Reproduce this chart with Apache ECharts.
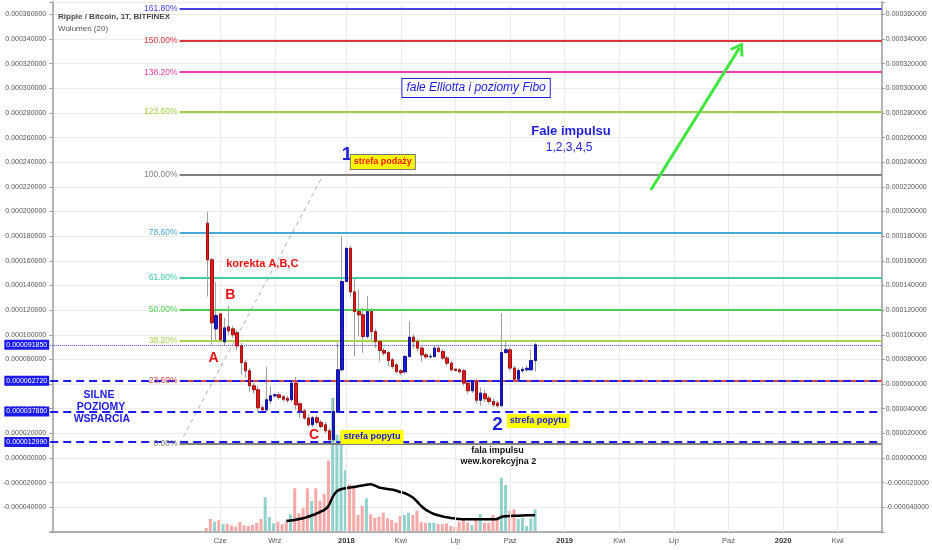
<!DOCTYPE html>
<html><head><meta charset="utf-8">
<script src="https://cdn.jsdelivr.net/npm/echarts@6/dist/echarts.min.js"></script>
<style>html,body{margin:0;padding:0;background:#fff}#c{width:932px;height:550px}</style>
</head><body><div id="c"></div>
<script>
// ---------- DATA (prices in µBTC = 1e-6 BTC) ----------
const firstWeek = '2016-08-29';
const weekCount = 198;
const candleStart = '2017-05-15';
const open = [190.5,160.8,104.8,117.0,94.3,106.4,104.8,101.6,91.0,77.3,70.8,58.6,55.4,40.8,39.2,46.5,50.5,51.3,49.7,48.5,47.3,60.8,44.0,38.3,32.4,27.0,32.7,29.0,27.0,22.1,14.8,37.8,71.6,143.2,170.2,134.8,118.8,116.2,98.6,118.8,102.6,94.5,87.2,85.6,79.7,75.6,70.8,70.0,82.4,98.1,94.5,89.2,83.7,82.1,82.4,89.2,86.4,81.1,77.0,72.2,71.6,70.8,60.8,54.6,61.9,46.9,52.1,48.6,45.9,44.6,42.4,85.6,87.8,73.0,64.0,70.8,71.6,71.6,79.1];
const close = [160.8,109.7,115.6,95.9,105.6,103.2,100.0,91.0,77.3,70.8,58.6,55.4,40.8,39.2,47.3,50.5,51.3,49.3,47.7,46.9,60.8,43.2,38.3,32.4,27.0,32.7,29.0,25.6,22.1,14.8,37.8,71.6,143.2,170.2,134.8,118.8,116.2,98.6,118.8,102.6,94.5,87.2,85.1,79.1,74.3,70.2,69.2,82.4,98.1,94.5,89.2,83.7,82.1,82.5,89.2,86.4,81.1,77.0,71.6,71.0,70.0,60.8,54.6,61.9,46.9,52.7,48.1,45.9,43.2,42.4,85.6,87.8,73.0,64.0,71.0,72.0,72.8,79.1,91.85];
const low = [131.0,91.9,94.5,91.9,91.0,100.0,97.5,87.8,67.5,65.1,53.7,52.1,37.5,36.7,37.5,44.0,48.9,47.3,45.6,44.8,45.6,39.2,32.7,31.0,25.4,25.4,27.0,23.8,20.5,11.6,13.2,36.7,70.0,141.3,130.8,82.4,98.6,85.4,96.7,93.5,89.4,78.3,82.9,74.3,72.4,68.3,67.5,68.3,81.3,88.6,86.2,78.1,80.5,80.5,81.3,85.4,79.7,74.8,70.0,70.0,68.3,58.6,52.1,52.9,44.0,42.4,45.6,44.0,41.6,40.8,41.6,84.6,70.8,61.9,62.7,69.2,70.0,70.8,70.2];
const high = [199.9,162.4,142.9,121.8,113.7,123.5,107.3,104.0,93.5,79.7,73.2,61.0,58.6,43.2,74.0,58.6,52.9,53.7,51.3,50.5,62.7,65.9,45.6,40.0,35.1,34.3,35.1,31.0,29.4,24.6,48.9,93.5,179.7,229.7,172.1,146.2,136.4,121.8,131.6,121.8,104.8,95.9,89.4,87.0,81.3,77.3,72.4,83.7,110.7,100.8,96.7,91.0,85.4,84.6,91.0,91.0,88.6,82.9,78.9,74.0,73.2,72.4,62.7,63.5,64.3,57.0,55.4,50.5,48.1,46.5,117.6,94.5,89.4,74.8,73.2,74.0,74.8,87.8,93.5];
const volume = [30,120,93,110,70,70,57,43,90,57,50,60,80,120,337,140,77,93,67,87,167,427,177,227,427,300,427,303,370,703,1330,960,960,610,467,453,160,250,327,167,133,143,183,127,110,83,150,160,183,160,203,93,83,83,83,70,70,77,50,43,93,110,83,60,110,170,83,83,160,110,533,460,203,217,120,133,50,127,217];
const maStart = '2017-09-25';
const volumeMA = [100,105,110,120,127,140,155,170,190,210,250,340,398,418,427,435,440,447,455,463,467,455,435,427,420,415,405,390,380,360,335,295,250,215,190,170,157,147,137,130,125,120,117,117,117,117,117,117,117,117,120,140,147,150,152,153,155,157,158,160];
const tickDates = ['2017-06-05','2017-09-04','2018-01-01','2018-04-02','2018-07-02','2018-10-01','2018-12-31','2019-04-01','2019-07-01','2019-09-30','2019-12-30','2020-03-30'];
const tickLabels = ['Cze','Wrz','2018','Kwi','Lip','Paź','2019','Kwi','Lip','Paź','2020','Kwi'];
const fibLow = 11.6, fibHigh = 229.7;
const fibRatios = [0, 0.236, 0.382, 0.5, 0.618, 0.786, 1, 1.236, 1.382, 1.5, 1.618];
const supportLevels = [62.722, 37.858, 12.994];
const lastPrice = 91.85;

// ---------- STYLE / LAYOUT ----------
const FONT = 'Liberation Sans, Arial, sans-serif';
const fibColors = ['#808080','#e04545','#a8d34c','#4fcf4f','#3fcfa0','#4aa6d6','#808080','#9fd04a','#e83ea8','#d9363e','#4545e6'];
const fibStartIdx = 30.3;
const BLUE = '#1b1bf0';

const DAY = 86400000;
const t0 = Date.parse(firstWeek + 'T00:00:00Z');
const categories = [];
for (let i = 0; i < weekCount; i++) categories.push(new Date(t0 + i * 7 * DAY).toISOString().slice(0, 10));
const cStart = categories.indexOf(candleStart);
const maIdx = categories.indexOf(maStart);
const tickIdx = tickDates.map(d => categories.indexOf(d));
const tickSet = new Set(tickIdx);
const tickMap = new Map(tickIdx.map((t, k) => [t, tickLabels[k]]));
const fmt = v => (v / 1e6).toFixed(9);

const wickData = open.map((o, k) => [cStart + k, o, close[k], low[k], high[k]]);
const bodyData = open.map((o, k) => [cStart + k, o, close[k], Math.min(o, close[k]), Math.max(o, close[k])]);
const volData = volume.map((v, k) => ({
  value: [cStart + k, v],
  itemStyle: { color: close[k] >= open[k] ? 'rgba(38,166,154,0.5)' : 'rgba(239,83,80,0.5)' }
}));
const maData = volumeMA.map((v, k) => [maIdx + k, v]);

const fibLines = fibRatios.map((r, k) => {
  const v = fibLow + r * (fibHigh - fibLow);
  return [
    { coord: [fibStartIdx, v], lineStyle: { color: fibColors[k], width: 2, type: 'solid' },
      label: { show: true, position: 'start', distance: 2, formatter: (r * 100).toFixed(2) + '%',
               color: fibColors[k], fontSize: 8.5, fontFamily: FONT } },
    { coord: [weekCount - 0.5, v] }
  ];
});

const boxLabel = (pos) => ({ show: true, position: pos, distance: 1, formatter: p => fmt(p.value),
  color: '#fff', backgroundColor: BLUE, padding: [2, 2, 1, 2], fontSize: 7, fontFamily: FONT });
const levelLines = [];
supportLevels.forEach(v => {
  levelLines.push({ yAxis: v, lineStyle: { color: BLUE, width: 2, type: [8, 5] }, label: boxLabel('start') });
  levelLines.push({ yAxis: v, lineStyle: { opacity: 0 }, label: boxLabel('end') });
});
levelLines.push({ yAxis: lastPrice, lineStyle: { color: '#4a4aff', width: 1, type: 'dotted' }, label: boxLabel('start') });
levelLines.push({ yAxis: lastPrice, lineStyle: { opacity: 0 }, label: boxLabel('end') });

const annotations = [
  { t: '1', x: 70.2, y: 245.9, s: { color: '#1f1fe0', fontSize: 19, fontWeight: 'bold' } },
  { t: 'strefa podaży', x: 78.7, y: 240.2, s: { color: '#ff1010', fontSize: 9, fontWeight: 'bold', backgroundColor: '#ffff00', borderColor: '#777', borderWidth: 1, padding: [3, 3, 2, 3] } },
  { t: 'korekta A,B,C', x: 50.0, y: 157.4, s: { color: '#ee1111', fontSize: 11, fontWeight: 'bold' } },
  { t: 'B', x: 42.4, y: 132.3, s: { color: '#ee1111', fontSize: 14, fontWeight: 'bold' } },
  { t: 'A', x: 38.4, y: 81.2, s: { color: '#ee1111', fontSize: 14, fontWeight: 'bold' } },
  { t: 'C', x: 62.3, y: 18.7, s: { color: '#ee1111', fontSize: 14, fontWeight: 'bold' } },
  { t: 'strefa popytu', x: 76.1, y: 17.1, s: { color: '#1515e8', fontSize: 9, fontWeight: 'bold', backgroundColor: '#ffff00', padding: [3, 3, 2, 3] } },
  { t: '2', x: 106.0, y: 26.8, s: { color: '#1f1fe0', fontSize: 19, fontWeight: 'bold' } },
  { t: 'strefa popytu', x: 115.7, y: 30.1, s: { color: '#1515e8', fontSize: 9, fontWeight: 'bold', backgroundColor: '#ffff00', padding: [3, 3, 2, 3] } },
  { t: 'fala impulsu', x: 106.0, y: 6.5, s: { color: '#111', fontSize: 9, fontWeight: 'bold' } },
  { t: 'wew.korekcyjna 2', x: 106.2, y: -3.2, s: { color: '#111', fontSize: 9, fontWeight: 'bold' } },
  { t: 'SILNE', x: 11.1, y: 51.1, s: { color: BLUE, fontSize: 10.5, fontWeight: 'bold' } },
  { t: 'POZIOMY', x: 11.6, y: 41.4, s: { color: BLUE, fontSize: 10.5, fontWeight: 'bold' } },
  { t: 'WSPARCIA', x: 11.8, y: 31.7, s: { color: BLUE, fontSize: 10.5, fontWeight: 'bold' } },
  { t: 'fale Elliotta i poziomy Fibo', x: 100.9, y: 300.2, s: { color: '#2020e0', fontSize: 12, fontStyle: 'italic', backgroundColor: '#fff', borderColor: '#2020e0', borderWidth: 1, padding: [3, 4] } },
  { t: 'Fale impulsu', x: 123.5, y: 265.3, s: { color: '#1f1fe0', fontSize: 13, fontWeight: 'bold' } },
  { t: '1,2,3,4,5', x: 123.05, y: 251.5, s: { color: '#1f1fe0', fontSize: 12 } }
];
const arrowFrom = [142.5, 217.5], arrowTo = [163.6, 332.7];
const diagFrom = [fibStartIdx, fibLow], diagTo = [64.5, fibHigh];

const yAxisBase = {
  type: 'value', gridIndex: 0, min: -60, max: 370, interval: 20,
  axisLine: { show: true, lineStyle: { color: '#9a9a9a', width: 1.5 } },
  axisTick: { show: true, length: 3, lineStyle: { color: '#9a9a9a' } },
  axisLabel: { formatter: v => (v < -50 || v > 365) ? '' : fmt(v), fontSize: 7, color: '#555', margin: 4, fontFamily: FONT }
};

const option = {
  animation: false,
  backgroundColor: '#fff',
  title: {
    text: 'Ripple / Bitcoin, 1T, BITFINEX', subtext: 'Wolumen (20)', left: 53, top: 8, itemGap: 4,
    textStyle: { fontSize: 8, fontWeight: 'bold', color: '#4a4a4a', fontFamily: FONT },
    subtextStyle: { fontSize: 8, color: '#555', fontFamily: FONT }
  },
  grid: [
    { left: 48, right: 49, top: 2, bottom: 18 },
    { left: 48, right: 49, bottom: 19, height: 140 }
  ],
  xAxis: [
    { type: 'category', gridIndex: 0, data: categories, boundaryGap: true,
      axisLine: { onZero: false, lineStyle: { color: '#9a9a9a', width: 1.5 } },
      axisTick: { interval: i => tickSet.has(i), alignWithLabel: true, length: 3, lineStyle: { color: '#9a9a9a' } },
      axisLabel: { interval: i => tickSet.has(i), margin: 5, fontSize: 7.5, color: '#555', fontFamily: FONT,
        formatter: (v, i) => { const l = tickMap.get(i) || ''; return /^\d{4}$/.test(l) ? '{y|' + l + '}' : l; },
        rich: { y: { fontWeight: 'bold', fontSize: 7.5, color: '#333', fontFamily: FONT } } },
      splitLine: { show: false } },
    { type: 'value', gridIndex: 0, min: -0.5, max: weekCount - 0.5, show: false },
    { type: 'category', gridIndex: 1, data: categories, boundaryGap: true, show: false }
  ],
  yAxis: [
    Object.assign({}, yAxisBase, { position: 'left', splitLine: { show: true, lineStyle: { color: '#ebebeb' } } }),
    Object.assign({}, yAxisBase, { position: 'right', splitLine: { show: false } }),
    { type: 'value', gridIndex: 1, min: 0, max: 1400, show: false, splitLine: { show: false } }
  ],
  series: [
    { type: 'line', xAxisIndex: 1, yAxisIndex: 0, data: [], z: 1,
      markLine: { silent: true, symbol: 'none', label: { show: false },
        lineStyle: { color: '#ebebeb', width: 1, type: 'solid' },
        data: tickIdx.map(i => ({ xAxis: i })) } },
    { type: 'bar', xAxisIndex: 2, yAxisIndex: 2, data: volData, barWidth: '72%', z: 2 },
    { type: 'line', xAxisIndex: 2, yAxisIndex: 2, data: maData, showSymbol: false, smooth: 0.3,
      lineStyle: { color: '#000', width: 2.5 }, z: 3 },
    { type: 'candlestick', xAxisIndex: 0, yAxisIndex: 0, data: wickData, encode: { x: 0, y: [1, 2, 3, 4] },
      barWidth: '70%', z: 4,
      itemStyle: { color: '#a0a0a0', color0: '#a0a0a0', borderColor: '#a0a0a0', borderColor0: '#a0a0a0', borderWidth: 1 } },
    { type: 'candlestick', xAxisIndex: 0, yAxisIndex: 0, data: bodyData, encode: { x: 0, y: [1, 2, 3, 4] },
      barWidth: '70%', z: 5,
      itemStyle: { color: '#1a1ad6', color0: '#e01b1b', borderColor: '#10109a', borderColor0: '#a81010', borderWidth: 1 } },
    { type: 'line', xAxisIndex: 1, yAxisIndex: 0, data: [], z: 6,
      markLine: { silent: true, symbol: 'none', data: fibLines } },
    { type: 'line', xAxisIndex: 1, yAxisIndex: 0, data: [], z: 7,
      markLine: { silent: true, symbol: 'none', label: { show: false },
        data: [
          [{ coord: diagFrom, lineStyle: { color: '#b0b0b0', width: 1, type: [4, 4] } }, { coord: diagTo }],
          [{ coord: arrowFrom, symbol: 'none', lineStyle: { color: '#3ce63c', width: 3, type: 'solid' } },
           { coord: arrowTo, symbol: 'path://M5,0 L10,9 L8.3,10 L5,3.8 L1.7,10 L0,9 Z', symbolSize: [16, 13] }]
        ] } },
    { type: 'line', xAxisIndex: 1, yAxisIndex: 0, data: [], z: 8,
      markLine: { silent: true, symbol: 'none', data: levelLines } },
    { type: 'scatter', xAxisIndex: 1, yAxisIndex: 0, z: 10, symbolSize: 1, silent: true,
      itemStyle: { color: 'rgba(0,0,0,0)', opacity: 1 },
      data: annotations.map(a => ({ value: [a.x, a.y],
        label: Object.assign({ show: true, position: 'inside', formatter: a.t, fontFamily: FONT, opacity: 1 }, a.s) })) }
  ]
};
const chart = echarts.init(document.getElementById('c'));
chart.setOption(option);
</script></body></html>
